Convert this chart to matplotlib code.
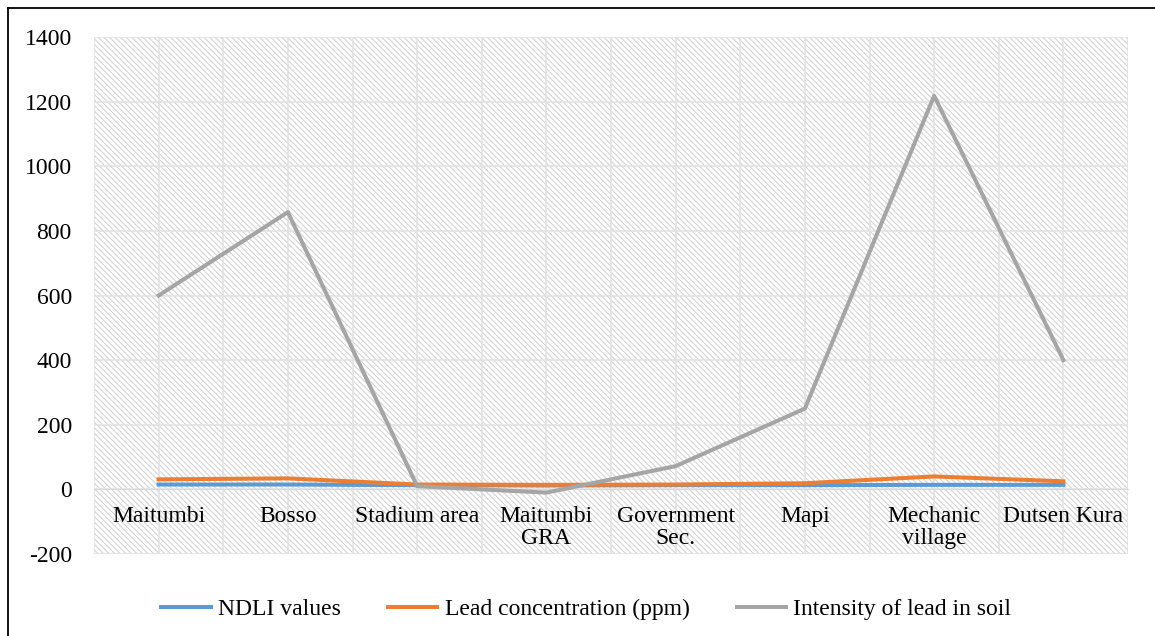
import matplotlib.pyplot as plt
from matplotlib.lines import Line2D

sites = ["Maitumbi", "Bosso", "Stadium area", "Maitumbi\nGRA", "Government\nSec.",
         "Mapi", "Mechanic\nvillage", "Dutsen Kura"]
ndli = [15, 15, 13, 12, 13, 13, 14, 14]
lead_ppm = [31, 34, 15, 14, 15, 19, 40, 25]
intensity = [600, 858, 10, -10, 72, 250, 1218, 400]

plt.rcParams['font.family'] = 'Liberation Serif'
plt.rcParams['hatch.color'] = '#d4d4d4'
plt.rcParams['hatch.linewidth'] = 0.8

fig = plt.figure(figsize=(11.55, 6.36), dpi=100)
ax = fig.add_axes([94 / 1155, 1 - 554 / 636, (1128 - 94) / 1155, (554 - 37) / 636])

x = list(range(len(sites)))
ax.plot(x, ndli, color='#5B9BD5', lw=2.9, label='NDLI values', zorder=3)
ax.plot(x, lead_ppm, color='#ED7D31', lw=2.9, label='Lead concentration (ppm)', zorder=4)
ax.plot(x, intensity, color='#A5A5A5', lw=2.9, label='Intensity of lead in soil', zorder=5)

ax.set_xlim(-0.5, len(sites) - 0.5)
ax.set_ylim(-200, 1400)
ax.set_yticks(range(-200, 1401, 200))
ax.set_yticklabels([str(v) for v in range(-200, 1401, 200)])

# hatched background plus square grid
ax.patch.set_facecolor('white')
ax.patch.set_hatch('\\' * 6)
ax.patch.set_edgecolor('#d4d4d4')
for gx in [i * 0.5 - 0.5 for i in range(2 * len(sites) + 1)]:
    ax.axvline(gx, color='#e3e3e3', lw=1.2, zorder=1)
for gy in range(-200, 1401, 200):
    ax.axhline(gy, color='#e3e3e3', lw=1.2, zorder=1)

for s in ax.spines.values():
    s.set_visible(False)
ax.spines['bottom'].set_position(('data', 0))
ax.spines['bottom'].set_visible(True)
ax.spines['bottom'].set_color('#d9d9d9')

ax.set_xticks(x)
ax.set_xticklabels(sites, fontsize=17, linespacing=1.05, va='top')
ax.tick_params(axis='x', length=0, pad=12)
ax.tick_params(axis='y', length=0, labelsize=17, pad=16)

ax.legend(loc='upper center', bbox_to_anchor=(0.476, -0.045), ncol=3, frameon=False,
          fontsize=17, handlelength=2.1, handletextpad=0.3, columnspacing=2.0)

# frame lines along the top and left edges
fig.add_artist(Line2D([8 / 1155, 8 / 1155], [0, 1 - 8 / 636], transform=fig.transFigure,
                      color='black', lw=1.3))
fig.add_artist(Line2D([8 / 1155, 1], [1 - 8 / 636, 1 - 8 / 636], transform=fig.transFigure,
                      color='black', lw=1.3))

fig.savefig('out.png', dpi=100)
